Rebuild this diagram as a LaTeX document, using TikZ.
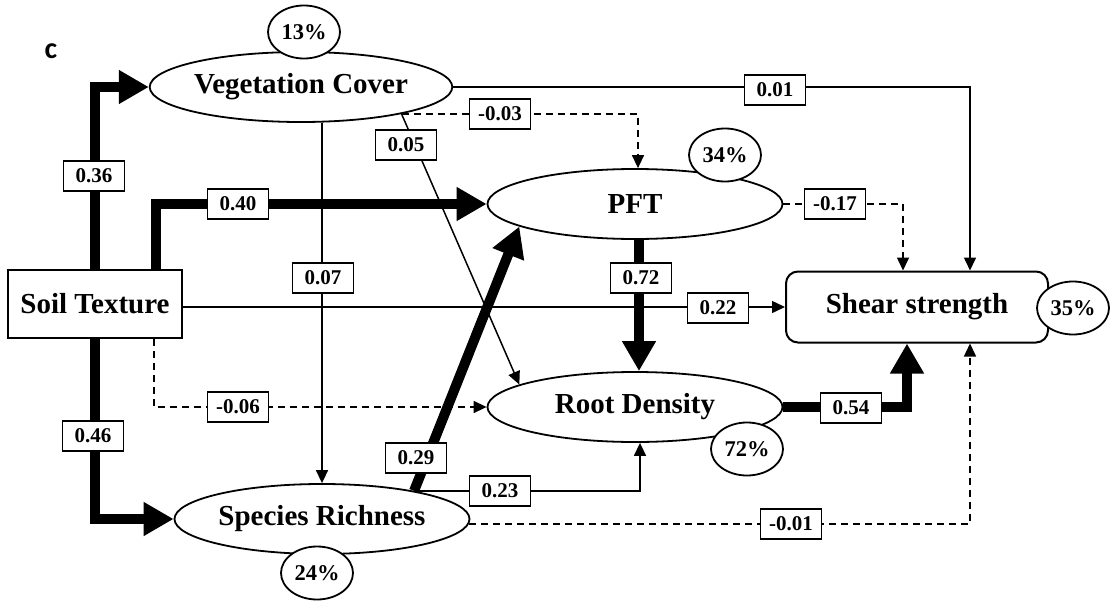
\documentclass[tikz,border=0pt]{standalone}
\usepackage{fontspec}
\setmainfont{Liberation Serif}
\newfontfamily\cfont{Carlito}
\usetikzlibrary{shapes.geometric,arrows.meta,calc}
\pgfdeclarelayer{bg}
\pgfsetlayers{bg,main}
\begin{document}
\begin{tikzpicture}[x=1pt,y=-1pt,
  var/.style={ellipse,draw,line width=1.8pt,fill=white,minimum width=295pt,minimum height=70pt,inner sep=0pt,font=\fontsize{29}{30}\selectfont\bfseries},
  obs/.style={rectangle,draw,line width=2pt,fill=white,minimum width=174pt,minimum height=68pt,inner sep=0pt,font=\fontsize{29}{30}\selectfont\bfseries},
  resp/.style={rectangle,rounded corners=12pt,draw,line width=2pt,fill=white,minimum width=262pt,minimum height=71pt,inner sep=0pt,font=\fontsize{29}{30}\selectfont\bfseries},
  pct/.style={ellipse,draw,line width=1.8pt,fill=white,minimum width=72pt,minimum height=53pt,inner sep=0pt,font=\fontsize{22.5}{24}\selectfont\bfseries},
  lbl/.style={rectangle,draw,line width=1.8pt,fill=white,minimum width=61pt,minimum height=30pt,inner sep=0pt,font=\fontsize{21}{23}\selectfont\bfseries},
  thinarr/.style={line width=1.5pt,-{Triangle[length=13pt,width=12pt]}},
  thickarr/.style={line width=10pt,line join=miter,-{Triangle[length=30pt,width=32pt]}},
  dsharr/.style={thinarr,dash pattern=on 7pt off 5pt},
]
\useasboundingbox (0,0) rectangle (1110,602);
% main nodes
\node[obs] (ST) at (95,304) {Soil Texture};
\node[var] (VC) at (301,87) {Vegetation Cover};
\node[var] (PFT) at (635,204) {PFT};
\node[var] (RD) at (635,407) {Root Density};
\node[var] (SR) at (322,519) {Species Richness};
\node[resp] (SS) at (917,307) {Shear strength};
% explained variance
\node[pct] (p13) at (304,32) {13\%};
\node[pct] (p34) at (725,155) {34\%};
\node[pct] (p72) at (747,449) {72\%};
\node[pct] (p35) at (1073,308) {35\%};
\node[pct] (p24) at (317,573) {24\%};
\node[font=\cfont\bfseries\fontsize{30}{30}\selectfont,inner sep=0pt] (c) at (51,51) {c};
% path labels
\node[lbl] (l36) at (94,176) {0.36};
\node[lbl] (l40) at (238,204) {0.40};
\node[lbl] (l07) at (323,278) {0.07};
\node[lbl] (l05) at (406,145) {0.05};
\node[lbl] (l03) at (500,114) {-0.03};
\node[lbl] (l01) at (775,90) {0.01};
\node[lbl] (l17) at (835,204) {-0.17};
\node[lbl] (l72) at (641,278) {0.72};
\node[lbl] (l22) at (718,308) {0.22};
\node[lbl] (l54) at (851,408) {0.54};
\node[lbl] (l01b) at (791,524) {-0.01};
\node[lbl] (l23) at (500,491) {0.23};
\node[lbl] (l29) at (416,458) {0.29};
\node[lbl] (l06) at (238,407) {-0.06};
\node[lbl] (l46) at (93,436) {0.46};
% connectors
\begin{pgfonlayer}{bg}
\fill[white] (0,0) rectangle (1110,602);
\draw[thickarr] (ST.north) |- (VC.west);
\draw[thickarr] ([xshift=61pt]ST.north) |- (PFT.west);
\draw[thickarr] (ST.south) |- (SR.west);
\draw[dsharr] ([xshift=59pt]ST.south) |- (RD.west);
\draw[thinarr] (ST.east |- SS.west) -- (SS.west);
\draw[thinarr] (VC.east) -| ([xshift=53pt]SS.north);
\draw[dsharr] (PFT.east) -| ([xshift=-14pt]SS.north);
\draw[dsharr] (VC.-15) -| ([xshift=3pt]PFT.north);
\draw[thinarr] (VC.-15) -- (RD.169);
\draw[thinarr] (VC.south -| SR.north) -- (SR.north);
\draw[thickarr] ([xshift=4pt]PFT.south) -- ([xshift=4pt]RD.north);
\draw[thickarr] (RD.east) -| ([xshift=-10pt]SS.south);
\draw[thickarr] (SR.17) -- (PFT.191);
\draw[thinarr] (SR.17) -| ([xshift=5pt]RD.south);
\draw[dsharr] (SR.-2) -| ([xshift=53pt]SS.south);
\end{pgfonlayer}
\end{tikzpicture}
\end{document}
